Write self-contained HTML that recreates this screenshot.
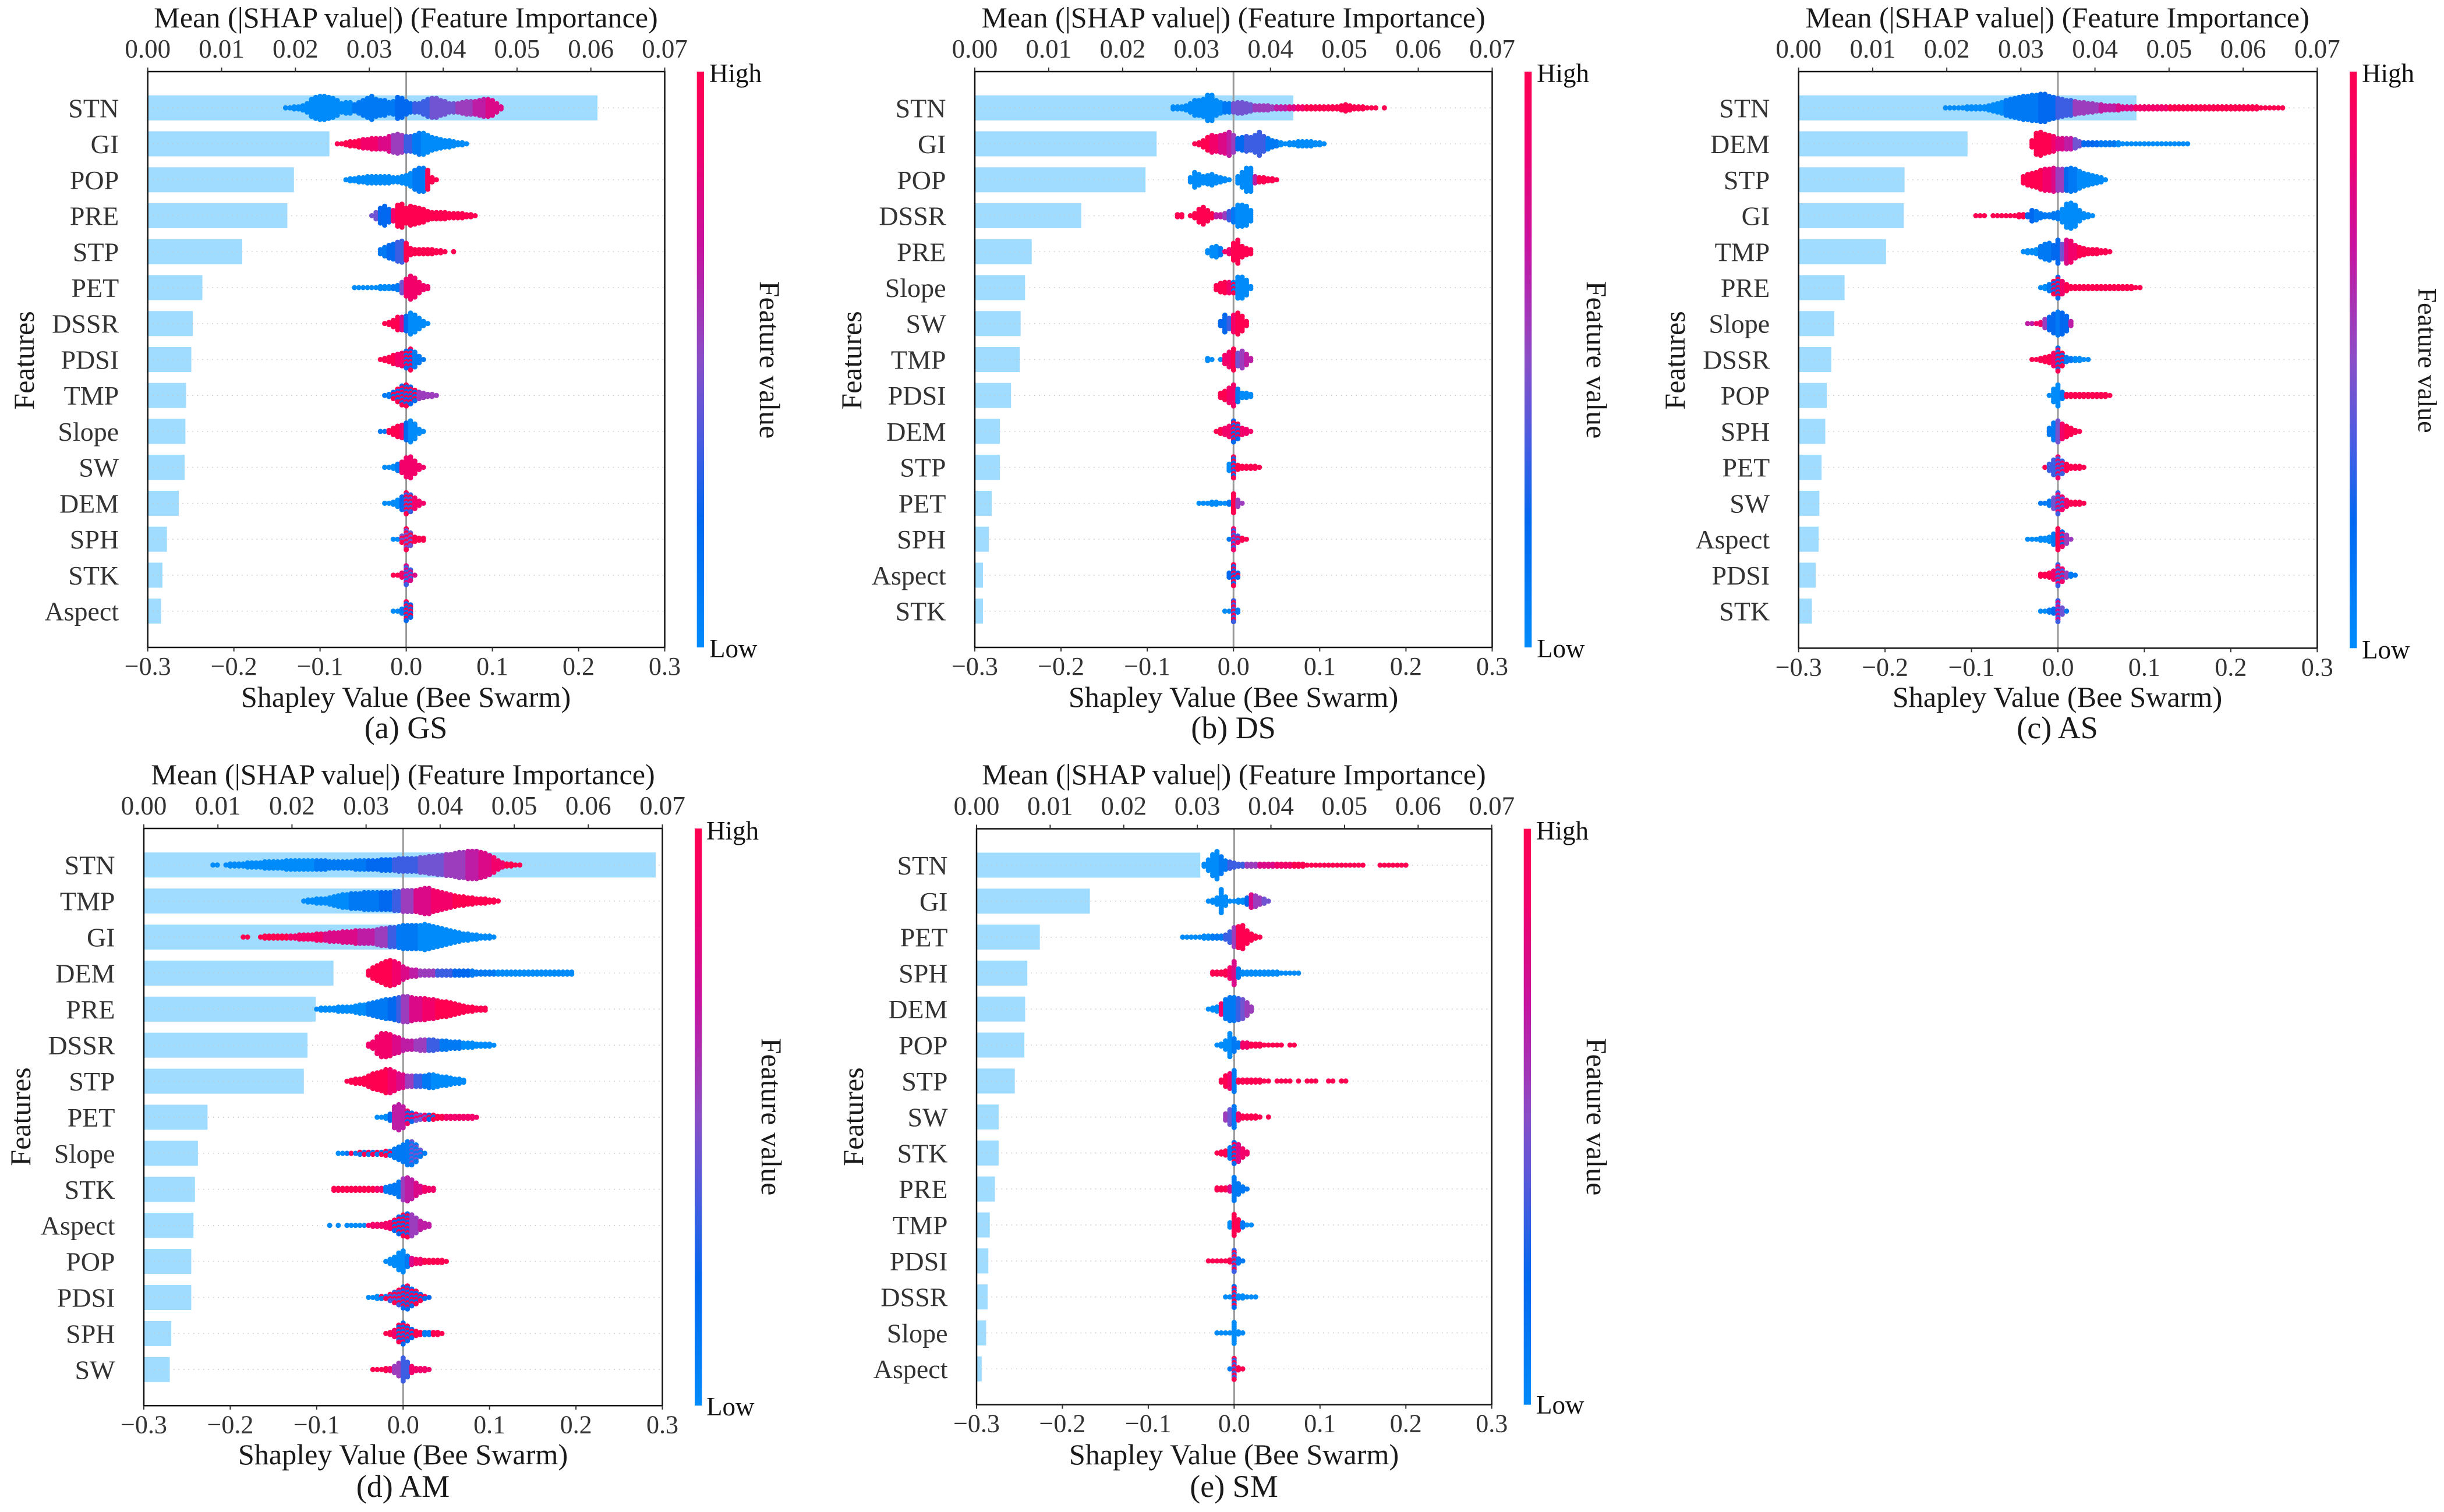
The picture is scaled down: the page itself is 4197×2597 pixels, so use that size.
<!DOCTYPE html>
<html lang="en">
<head>
<meta charset="utf-8">
<title>SHAP feature importance and bee swarm plots</title>
<style>
html,body{margin:0;padding:0;background:#fff}
svg{display:block}
text{font-family:"Liberation Serif","Times New Roman",serif}
.title{font-size:50.2px;fill:#1a1a1a;text-anchor:middle}
.cap{font-size:54px;fill:#1a1a1a;text-anchor:middle}
.side{font-size:50px;fill:#1a1a1a;text-anchor:middle}
.cb{font-size:45px;fill:#111}
</style>
</head>
<body>
<svg id="figure" xmlns="http://www.w3.org/2000/svg" width="4197" height="2597" viewBox="0 0 4197 2597">
<defs>
<linearGradient id="cbGrad" x1="0" y1="1" x2="0" y2="0">
<stop offset="0" stop-color="#008bfb"/><stop offset=".22" stop-color="#0068f0"/><stop offset=".36" stop-color="#4a5ce0"/><stop offset=".5" stop-color="#8a4ec8"/><stop offset=".7" stop-color="#c8129e"/><stop offset=".86" stop-color="#f00070"/><stop offset="1" stop-color="#ff0051"/>
</linearGradient>
</defs>
<g id="panel-gs"></g>
<g id="panel-ds"></g>
<g id="panel-as"></g>
<g id="panel-am"></g>
<g id="panel-sm"></g>

<g>
<text class="title" x="697" y="47">Mean (|SHAP value|) (Feature Importance)</text>
<text class="title" x="697" y="1214">Shapley Value (Bee Swarm)</text>
<text class="cap" x="697" y="1268">(a) GS</text>
<text class="side" transform="translate(58,619) rotate(-90)">Features</text>
<text class="side" transform="translate(1305,618) rotate(90)">Feature value</text>
<text class="cb" x="1218" y="141">High</text>
<text class="cb" x="1218" y="1129">Low</text>
</g>
<g>
<text class="title" x="2118" y="47">Mean (|SHAP value|) (Feature Importance)</text>
<text class="title" x="2118" y="1214">Shapley Value (Bee Swarm)</text>
<text class="cap" x="2118" y="1268">(b) DS</text>
<text class="side" transform="translate(1479,619) rotate(-90)">Features</text>
<text class="side" transform="translate(2725,618) rotate(90)">Feature value</text>
<text class="cb" x="2639" y="141">High</text>
<text class="cb" x="2639" y="1129">Low</text>
</g>
<g>
<text class="title" x="3533" y="47">Mean (|SHAP value|) (Feature Importance)</text>
<text class="title" x="3533" y="1214">Shapley Value (Bee Swarm)</text>
<text class="cap" x="3533" y="1268">(c) AS</text>
<text class="side" transform="translate(2893,619) rotate(-90)">Features</text>
<text class="side" style="font-size:46px" transform="translate(4153,619) rotate(90)">Feature value</text>
<text class="cb" x="4056" y="141">High</text>
<text class="cb" x="4056" y="1131">Low</text>
</g>
<g>
<text class="title" x="692" y="1347">Mean (|SHAP value|) (Feature Importance)</text>
<text class="title" x="692" y="2515">Shapley Value (Bee Swarm)</text>
<text class="cap" x="692" y="2571">(d) AM</text>
<text class="side" transform="translate(52,1918) rotate(-90)">Features</text>
<text class="side" transform="translate(1308,1918) rotate(90)">Feature value</text>
<text class="cb" x="1213" y="1442">High</text>
<text class="cb" x="1213" y="2431">Low</text>
</g>
<g>
<text class="title" x="2119" y="1347">Mean (|SHAP value|) (Feature Importance)</text>
<text class="title" x="2119" y="2515">Shapley Value (Bee Swarm)</text>
<text class="cap" x="2119" y="2571">(e) SM</text>
<text class="side" transform="translate(1482,1918) rotate(-90)">Features</text>
<text class="side" transform="translate(2725,1918) rotate(90)">Feature value</text>
<text class="cb" x="2638" y="1442">High</text>
<text class="cb" x="2638" y="2428">Low</text>
</g>
</svg>
<script>
// Shared tick values and labels
const shapTicks=[-0.3,-0.2,-0.1,0,0.1,0.2,0.3];
const shapTickLabels=["\u22120.3","\u22120.2","\u22120.1","0.0","0.1","0.2","0.3"];
const importanceTicks=[0,0.01,0.02,0.03,0.04,0.05,0.06,0.07];
const importanceTickLabels=["0.00","0.01","0.02","0.03","0.04","0.05","0.06","0.07"];
// Swarm data: columns are 0.005 wide. Start = first column's SHAP value in thousandths.
// Counts = dots in each column. Colors = pairs (from SHAP in thousandths, code):
// code 0-9 = feature value decile, a two-digit code alternates its two deciles.
const swarmColumnWidth=0.005;

const gsFeatures=["STN","GI","POP","PRE","STP","PET","DSSR","PDSI","TMP","Slope","SW","DEM","SPH","STK","Aspect"];
const gsImportance=[.0609,.0246,.0198,.0189,.0128,.0074,.0061,.0059,.0052,.0051,.0050,.0042,.0026,.0020,.0018];
const gsSwarmStart=[-140,-80,-70,-40,-30,-60,-25,-30,-25,-30,-25,-25,-15,-15,-15];
const gsSwarmCounts=[
[1,1,2,2,3,5,9,11,12,12,11,10,8,5,6,6,4,6,8,10,12,9,8,8,6,7,11,10,7,5,5,5,7,9,10,10,8,7,5,5,5,6,7,7,7,8,9,9,8,5,2],
[1,1,2,3,3,4,5,5,6,6,6,6,8,9,10,9,8,8,9,11,11,9,7,6,5,4,4,3,2,2,1],
[1,2,2,3,3,4,4,4,4,4,4,3,3,4,5,7,10,12,12,10,3,1],
[1,4,8,10,7,6,11,12,8,10,9,8,7,5,4,4,4,4,3,3,3,3,2,2,1],
[3,5,7,8,10,11,9,4,3,3,3,3,3,2,2,1,0,1],
[1,1,1,1,1,1,2,2,2,2,3,6,9,12,10,6,3,2],
[1,2,4,7,7,8,11,9,6,3,1],
[1,2,3,5,6,7,9,11,8,4,1],
[1,2,4,7,10,11,9,6,4,3,2,2,1],
[1,1,2,4,6,7,9,11,8,3,1],
[1,1,2,4,6,10,11,7,3,1],
[1,1,2,4,7,11,9,6,3,1],
[1,1,4,11,7,3,2,2],
[1,1,3,10,6,1],
[1,1,3,10,7]];
const gsSwarmColors=[
[-140,0,-60,1,-10,2,10,3,30,4,60,5,80,6,95,7],
[-80,9,-50,8,-30,7,-15,5,0,3,10,1,20,0],
[-70,0,10,1,25,9],
[-40,4,-30,2,-18,8,-10,9],
[-30,1,-20,2,-10,3,-2,9],
[-60,0,-15,1,-8,4,-3,8],
[-25,9,-5,7,0,2,5,0],
[-30,9,-10,8,0,29,10,1],
[-25,1,-15,29,15,5],
[-30,1,-22,9,-5,8,0,2,5,0],
[-25,0,-10,1,-5,8],
[-25,0,-5,2,0,39,10,8],
[-15,0,-5,49,10,9],
[-15,9,-5,8,-3,37],
[-15,0,-5,1,-3,29]];

const dsFeatures=["STN","GI","POP","DSSR","PRE","Slope","SW","TMP","PDSI","DEM","STP","PET","SPH","Aspect","STK"];
const dsImportance=[.0431,.0246,.0231,.0144,.0077,.0068,.0062,.0061,.0049,.0034,.0034,.0023,.0019,.0011,.0011];
const dsSwarmStart=[-70,-45,-50,-65,-30,-20,-15,-30,-15,-20,-5,-40,-5,-5,-10];
const dsSwarmCounts=[
[2,2,2,3,5,8,8,9,13,13,8,6,5,5,5,6,6,5,4,3,3,3,3,2,2,2,2,2,2,2,2,2,2,2,2,2,2,2,2,3,4,3,2,2,2,1,1,1,0,1],
[1,2,4,7,9,8,9,10,12,9,6,7,8,7,9,12,8,6,4,3,2,1,2,2,3,3,3,3,2,2,1],
[3,8,6,4,5,6,4,3,2,1,0,4,8,12,12,4,3,3,2,2,1],
[2,2,0,1,3,7,9,6,3,2,2,3,5,7,11,11,10,6],
[2,5,6,4,1,3,9,12,6,4,3],
[3,5,6,6,6,11,11,8,2],
[3,9,6,9,11,8,3],
[2,1,0,1,5,8,11,7,9,6,2],
[3,5,8,11,7,3,3,2],
[1,3,4,6,11,8,4,3,1],
[4,11,3,2,2,2,2,1],
[1,1,1,2,2,1,1,2,10,4,1],
[1,11,4,2,1],
[3,11,3],
[1,1,11,2]];
const dsSwarmColors=[
[-70,0,-10,1,0,4,25,5,50,6,65,7,75,8,85,9],
[-45,9,-25,8,-15,7,-5,6,0,5,5,2,15,3,40,1,55,0],
[-50,0,25,6,30,9],
[-65,9,-20,6,-10,5,-5,3,0,1,5,0],
[-30,0,-15,1,-10,8,0,9],
[-20,9,-8,8,0,19,3,0],
[-15,2,-5,3,0,8,5,9],
[-30,0,-10,8,0,9,5,4,10,5,15,6],
[-15,9,-5,8,5,1,10,0],
[-20,9,-10,8,-3,29,10,8],
[-5,0,0,29,5,9],
[-40,0,-5,1,0,9,5,5],
[-5,1,0,38,10,9],
[-5,2,0,29],
[-10,0,0,39,5,1]];

const asFeatures=["STN","DEM","STP","GI","TMP","PRE","Slope","DSSR","POP","SPH","PET","SW","Aspect","PDSI","STK"];
const asImportance=[.0456,.0228,.0143,.0142,.0118,.0062,.0048,.0044,.0038,.0036,.0031,.0028,.0027,.0023,.0018];
const asSwarmStart=[-130,-30,-40,-95,-40,-20,-35,-30,-10,-10,-15,-20,-35,-20,-20];
const asSwarmCounts=[
[1,1,1,1,1,2,2,2,2,2,3,4,5,6,8,9,10,11,12,12,13,13,14,14,12,11,10,9,8,8,7,6,6,5,5,4,4,3,3,3,3,2,2,2,2,2,2,2,2,2,2,2,2,2,2,2,2,2,2,2,2,2,2,2,2,2,2,2,2,2,2,2,2,1,1,1,1,1,1],
[4,11,12,10,9,8,6,6,6,6,5,3,2,2,2,2,2,2,2,2,2,1,1,1,1,1,1,1,1,1,1,1,1,1,1,1,1],
[4,6,7,8,10,11,11,12,11,11,11,12,11,9,7,6,5,4,3,1],
[1,1,1,0,1,1,1,1,1,1,2,2,2,6,5,3,2,2,3,4,7,12,13,11,6,3,2,1],
[1,2,2,3,6,8,9,7,12,8,12,11,7,5,4,3,3,3,2,2,1],
[1,2,4,7,11,7,4,2,2,2,2,2,2,2,2,2,2,2,2,2,2,2,1,1],
[1,1,1,2,5,7,10,12,11,8,3],
[1,1,2,3,4,7,12,7,3,2,2,2,1,1],
[1,7,11,4,2,2,2,2,2,2,2,2,2,2,1],
[4,9,11,8,6,4,2,1],
[1,4,8,11,7,4,2,2,2,1],
[1,1,3,6,11,7,4,2,2,2,1],
[1,1,1,2,2,3,6,11,8,5,1],
[2,2,3,5,11,7,3,2,1],
[1,1,2,3,11,4,1]];
const asSwarmColors=[
[-130,0,-60,1,-20,2,0,3,20,5,50,6,70,7,90,8,130,9],
[-30,9,-5,8,0,7,10,6,20,4,30,2,50,1,70,0],
[-40,9,-15,8,-5,7,0,5,10,2,15,1,25,0],
[-95,9,-35,2,-25,1,5,0],
[-40,0,-20,1,-5,2,2,4,8,7,15,8,25,9],
[-20,0,-10,1,-5,29,5,8,10,9],
[-35,6,-25,8,-15,5,-10,2,0,1,5,2,15,6],
[-30,9,-5,8,0,29,10,1,20,0],
[-10,0,5,1,10,9],
[-10,1,-3,4,5,8,10,9],
[-15,9,-10,3,0,38,10,9],
[-20,1,-5,4,0,38,10,8,15,9],
[-35,0,-8,1,-3,9,5,28,10,5],
[-20,9,-5,8,0,38,10,5,15,1],
[-20,0,-10,1,-5,2,0,37,5,4,10,1]];

const amFeatures=["STN","TMP","GI","DEM","PRE","DSSR","STP","PET","Slope","STK","Aspect","POP","PDSI","SPH","SW"];
const amImportance=[.0691,.0344,.0339,.0256,.0232,.0221,.0216,.0086,.0073,.0069,.0067,.0064,.0064,.0037,.0035];
const amSwarmStart=[-220,-115,-185,-40,-100,-40,-65,-30,-75,-80,-85,-20,-40,-20,-35];
const amSwarmCounts=[
[1,1,0,1,2,2,2,2,3,3,3,3,4,4,4,4,4,5,5,5,5,5,5,5,5,5,5,4,4,4,4,4,4,5,5,5,5,5,5,6,6,6,6,7,7,7,7,7,8,8,9,9,10,10,11,11,12,13,13,14,14,14,13,12,10,8,5,3,2,2,1,1],
[1,2,2,3,3,3,4,5,6,7,7,8,8,8,9,9,9,9,9,9,9,10,10,11,11,11,11,12,13,13,11,10,9,8,7,6,5,5,4,4,3,3,3,2,2,1],
[1,1,0,0,1,2,2,2,2,2,2,2,2,3,3,3,3,4,4,4,5,5,5,6,6,6,7,7,7,7,7,8,9,9,10,10,11,12,12,12,12,12,13,12,11,10,9,8,7,6,5,4,4,3,3,2,2,2,1],
[3,6,8,10,12,13,12,10,7,5,4,4,3,3,3,3,3,3,3,3,3,3,3,3,3,2,2,2,2,2,2,2,2,2,2,2,2,2,2,2,2,2,2,2,2,2,2,2],
[1,2,2,2,2,3,3,3,3,4,5,5,6,7,8,9,10,10,11,12,13,13,12,11,11,11,10,10,9,8,8,7,6,5,4,3,3,2,2,2],
[2,4,9,12,12,11,9,8,6,5,5,5,6,6,6,6,5,5,5,4,4,4,3,3,3,2,2,2,2,1],
[1,2,3,3,4,6,8,9,10,12,12,10,8,7,6,6,6,6,6,7,7,6,5,5,4,3,3,2],
[1,1,2,4,11,13,11,7,5,4,3,3,3,3,2,2,2,2,2,2,2,2,2,1],
[1,1,1,1,1,2,2,2,2,2,2,3,3,5,7,9,12,12,9,4,1],
[2,2,2,2,2,2,2,2,2,2,2,2,3,4,5,8,11,12,10,7,4,3,2,2],
[1,0,1,0,1,1,1,1,1,1,2,2,2,3,4,6,9,11,12,11,8,5,3,2],
[1,3,5,9,11,6,4,3,3,2,2,2,2,2,1],
[1,1,2,2,2,4,6,8,11,12,9,7,4,2,1],
[1,2,4,9,11,8,5,3,2,2,2,2,2,1],
[1,1,1,2,2,4,7,12,8,4,2,2,2,1]];
const amSwarmColors=[
[-220,0,-100,1,-40,2,-10,3,20,4,50,5,75,6,90,7,105,8,120,9],
[-115,0,-60,1,-25,2,-10,3,0,5,15,7,35,8,60,9],
[-185,9,-130,8,-90,7,-50,6,-30,5,-15,3,-5,1,20,0],
[-40,9,-10,8,0,7,10,6,20,5,40,3,60,2,80,1,110,0],
[-100,0,-40,1,-15,2,-5,3,0,5,10,7,25,8,40,9],
[-40,8,-10,7,0,6,15,5,30,3,45,1,70,0],
[-65,9,-15,8,-5,7,5,5,15,3,25,1,35,0],
[-30,0,-15,2,-10,6,5,28,15,48,30,29,40,9,50,8],
[-75,0,-65,19,-10,1,10,14],
[-80,9,-30,8,-20,1,0,5,5,6,15,7,25,8],
[-85,0,-40,8,-10,29,10,5,20,6],
[-20,0,3,1,8,7,15,8,25,9],
[-40,0,-25,19,-15,39,0,29],
[-20,9,-10,8,-5,29,15,9,25,1,35,9],
[-35,9,-15,8,-10,5,0,3,10,8]];

const smFeatures=["STN","GI","PET","SPH","DEM","POP","STP","SW","STK","PRE","TMP","PDSI","DSSR","Slope","Aspect"];
const smImportance=[.0304,.0154,.0086,.0069,.0066,.0065,.0052,.0030,.0030,.0025,.0018,.0016,.0015,.0013,.0007];
const smSwarmStart=[-35,-30,-60,-25,-30,-20,-15,-10,-20,-20,-5,-30,-10,-20,-5];
const smSwarmCounts=[
[2,6,11,14,9,5,4,3,2,2,2,2,2,2,2,2,2,2,2,2,2,2,2,2,1,1,1,1,1,1,1,1,1,1,1,1,1,1,0,0,0,1,1,1,1,1,1,1],
[1,2,4,12,5,1,1,2,2,4,7,6,4,3,1],
[1,1,1,1,1,2,2,2,2,2,3,6,10,11,12,7,4,2,1],
[2,2,2,3,6,12,5,2,2,2,2,2,2,2,2,2,1,1,1,1,1],
[1,2,3,6,10,12,12,11,10,7,3],
[1,2,5,12,7,3,3,3,2,2,2,1,1,1,1,1,0,1,1],
[2,6,8,11,2,2,2,2,2,2,1,1,0,1,1,1,1,0,1,0,1,1,1,0,0,1,1,0,1,1],
[4,8,11,4,2,2,2,2,1,0,1],
[1,2,3,6,11,9,5,2],
[2,2,2,3,12,6,3,1],
[3,11,6,3,1,1],
[1,1,1,1,1,2,11,3,1],
[1,1,11,2,2,1,1,1],
[1,1,1,1,11,2,1],
[1,11,2,1]];
const smSwarmColors=[
[-35,0,-15,1,-5,3,15,5,30,7,50,8,70,9],
[-30,0,15,2,18,7,25,5,35,4],
[-60,0,-25,1,-10,3,-3,5,5,9],
[-25,9,-5,8,0,7,5,1,10,0],
[-30,0,-18,8,-10,1,3,3,8,4,15,5],
[-20,0,0,1,8,8,20,9],
[-15,9,-5,8,-2,29,0,1,5,9],
[-10,5,-5,4,0,1,5,8,10,9],
[-20,9,-8,1,0,29,5,7,10,8],
[-20,9,-8,7,0,1],
[-5,0,-3,9,8,1,12,0],
[-30,9,0,39,5,1],
[-10,0,-2,29,5,0],
[-20,0],
[-5,1,0,39,3,9]];

const colorStopPos=[0,.22,.36,.5,.7,.86,1];
const colorStopRGB=[[0,139,251],[0,104,240],[74,92,224],[138,78,200],[200,18,158],[240,0,112],[255,0,81]];
const SVGNS="http://www.w3.org/2000/svg";

function featureColor(v){
  for(let i=1;i<colorStopPos.length;i++){
    if(v<=colorStopPos[i]){
      const t=(v-colorStopPos[i-1])/(colorStopPos[i]-colorStopPos[i-1]);
      const c=colorStopRGB[i-1].map((a,k)=>Math.round(a+(colorStopRGB[i][k]-a)*t));
      return "rgb("+c.join(",")+")";
    }
  }
  return "rgb(255,0,81)";
}
function colorCodeAt(runs,milli){
  let code=runs[1];
  for(let i=0;i<runs.length;i+=2){ if(milli>=runs[i]) code=runs[i+1]; }
  return code;
}
function mk(parent,tag,attrs,txt){
  const el=document.createElementNS(SVGNS,tag);
  for(const k in attrs) el.setAttribute(k,attrs[k]);
  if(txt!==undefined) el.textContent=txt;
  parent.appendChild(el);
  return el;
}

function drawPanel(cfg){
  const root=document.getElementById(cfg.id);
  const p=cfg.prefix;
  const shapX=v=>cfg.left+(v-(-0.3))/0.6*(cfg.right-cfg.left);
  const impX=v=>cfg.left+v/0.07*(cfg.right-cfg.left);
  const rowY=i=>cfg.row0+i*cfg.rowStep;

  cfg.importance.forEach((v,i)=>{
    const bar=mk(root,"rect",{x:cfg.left,y:rowY(i)-21.5,width:impX(v)-cfg.left,height:43,fill:"#9fdcff"});
    
    
  });
  cfg.features.forEach((f,i)=>{
    const row=mk(root,"line",{x1:cfg.left,x2:cfg.right,y1:rowY(i),y2:rowY(i),stroke:"#c4c4c4","stroke-width":1.5,"stroke-dasharray":"1.5 7"});
    
    
    const lab=mk(root,"text",{x:cfg.left-49.5,y:rowY(i)+16,"text-anchor":"end","font-size":46,fill:"#333"},f);
    
    
  });
  const zero=mk(root,"line",{x1:shapX(0),x2:shapX(0),y1:cfg.top,y2:cfg.bottom,stroke:"#999","stroke-width":3});
  
  

  const dotSpacing=3.6;
  cfg.counts.forEach((col,f)=>{
    col.forEach((n,i)=>{
      const milli=cfg.starts[f]+i*swarmColumnWidth*1000;
      const code=colorCodeAt(cfg.colors[f],milli);
      for(let j=0;j<n;j++){
        let d=code;
        if(code>=10) d=((i+j)%2===0)?Math.floor(code/10):code%10;
        const dot=mk(root,"circle",{cx:shapX(milli/1000).toFixed(1),cy:(rowY(f)+(j-(n-1)/2)*dotSpacing).toFixed(1),r:4.5,fill:featureColor(d/9)});
        
        
      }
    });
  });

  const frame=mk(root,"rect",{x:cfg.left,y:cfg.top,width:cfg.right-cfg.left,height:cfg.bottom-cfg.top,fill:"none",stroke:"#111","stroke-width":2.5});
  
  

  shapTicks.forEach((v,i)=>{
    const x=shapX(v);
    const tick=mk(root,"line",{x1:x,x2:x,y1:cfg.bottom,y2:cfg.bottom+7,stroke:"#333","stroke-width":2});
    
    
    const lab=mk(root,"text",{x:x,y:cfg.bottom+47,"text-anchor":"middle","font-size":44,fill:"#333"},shapTickLabels[i]);
    
    
  });
  importanceTicks.forEach((v,i)=>{
    const x=impX(v);
    const tick=mk(root,"line",{x1:x,x2:x,y1:cfg.top,y2:cfg.top-7,stroke:"#333","stroke-width":2});
    
    
    const lab=mk(root,"text",{x:x,y:cfg.top-24,"text-anchor":"middle","font-size":45,fill:"#333"},importanceTickLabels[i]);
    
    
  });
  const cb=mk(root,"rect",{x:cfg.cbLeft,y:cfg.top,width:12.3,height:cfg.bottom-cfg.top,fill:"url(#cbGrad)"});
  
  
}

drawPanel({id:"panel-gs",prefix:"gs",left:253.7,right:1141.5,top:123,bottom:1112,row0:185.3,rowStep:61.74,cbLeft:1196.7,features:gsFeatures,importance:gsImportance,starts:gsSwarmStart,counts:gsSwarmCounts,colors:gsSwarmColors});
drawPanel({id:"panel-ds",prefix:"ds",left:1674,right:2562.5,top:123,bottom:1112,row0:185.3,rowStep:61.74,cbLeft:2618,features:dsFeatures,importance:dsImportance,starts:dsSwarmStart,counts:dsSwarmCounts,colors:dsSwarmColors});
drawPanel({id:"panel-as",prefix:"as",left:3088.7,right:3979.3,top:123,bottom:1113.3,row0:185.3,rowStep:61.74,cbLeft:4035,features:asFeatures,importance:asImportance,starts:asSwarmStart,counts:asSwarmCounts,colors:asSwarmColors});
drawPanel({id:"panel-am",prefix:"am",left:247,right:1137.5,top:1423,bottom:2414.3,row0:1485.7,rowStep:61.9,cbLeft:1193,features:amFeatures,importance:amImportance,starts:amSwarmStart,counts:amSwarmCounts,colors:amSwarmColors});
drawPanel({id:"panel-sm",prefix:"sm",left:1677,right:2561.7,top:1423.5,bottom:2412.7,row0:1486,rowStep:61.8,cbLeft:2616.7,features:smFeatures,importance:smImportance,starts:smSwarmStart,counts:smSwarmCounts,colors:smSwarmColors});
</script>
</body>
</html>
